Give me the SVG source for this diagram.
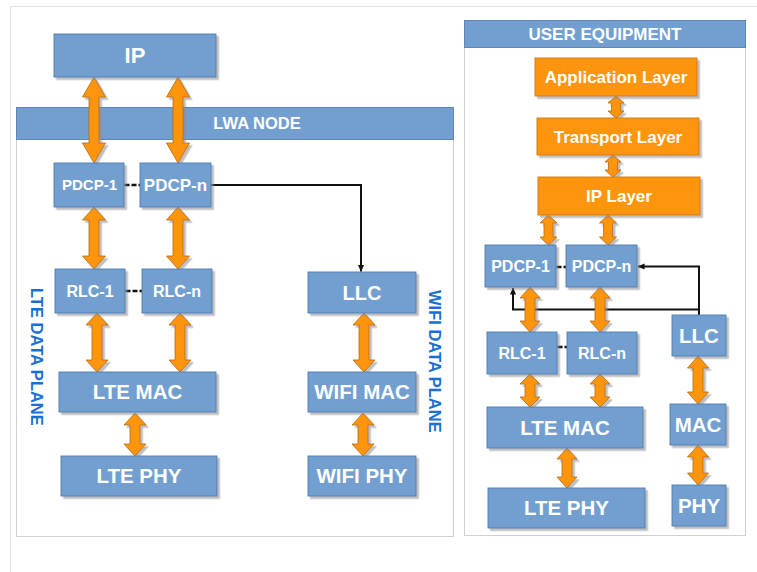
<svg xmlns="http://www.w3.org/2000/svg" width="757" height="572" viewBox="0 0 757 572">
  <defs>
    <filter id="shadow" x="-10%" y="-10%" width="130%" height="140%">
      <feDropShadow dx="2.5" dy="2.5" stdDeviation="0.7" flood-color="#8a8a8a" flood-opacity="0.55"/>
    </filter>
    <marker id="tip" viewBox="0 0 8 8" refX="7.5" refY="4" markerWidth="7" markerHeight="7" markerUnits="userSpaceOnUse" orient="auto">
      <path d="M0,0.5 L8,4 L0,7.5 Z" fill="#111"/>
    </marker>
    <style>
      .frame { fill: none; stroke: #e2e2e2; stroke-width: 1; }
      .panel { fill: #ffffff; stroke: #d0d0d0; stroke-width: 1; }
      .head { fill: #729fcf; stroke: #5b87bb; stroke-width: 1; }
      .blue { fill: #729fcf; stroke: #4f7db3; stroke-width: 0.9; filter: url(#shadow); }
      .orange { fill: #ff950e; stroke: #d07808; stroke-width: 0.9; filter: url(#shadow); }
      .arrow { fill: #ff950e; stroke: #b86a00; stroke-width: 0.8; stroke-linejoin: miter; filter: url(#shadow); }
      .wire { fill: none; stroke: #111; stroke-width: 2; }
      .dash { fill: none; stroke: #111; stroke-width: 2.5; stroke-dasharray: 5 2; }
      text { font-family: "Liberation Sans", Arial, sans-serif; font-weight: bold; fill: #ffffff; text-anchor: middle; }
      .side { fill: #1a6fd2; text-anchor: start; font-size: 16.5px; }
    </style>
  </defs>

  <!-- page edges -->
  <path class="frame" d="M10.5,572 V6.5 H757"/>

  <!-- containers -->
  <g id="lwa-node">
    <rect class="panel" x="16.5" y="107.5" width="437" height="429"/>
    <rect class="head" x="16.5" y="107.5" width="437" height="32"/>
    <text x="257" y="129.3" font-size="16.5">LWA NODE</text>
  </g>
  <g id="user-equipment">
    <rect class="panel" x="464.5" y="20.5" width="281" height="515"/>
    <rect class="head" x="464.5" y="20.5" width="281" height="27"/>
    <text x="605" y="39.8" font-size="17">USER EQUIPMENT</text>
  </g>

  <!-- side labels -->
  <text class="side" transform="translate(31,288) rotate(90)">LTE DATA PLANE</text>
  <text class="side" transform="translate(429,290) rotate(90)">WIFI DATA PLANE</text>

  <!-- connectors -->
  <g id="connectors">
    <!-- LWA node wiring -->
    <path class="wire" d="M211,185 H361 V271.5" marker-end="url(#tip)"/>
    <path class="dash" d="M124.5,185 H140"/>
    <path class="dash" d="M125.5,291 H142"/>
    <!-- UE wiring -->
    <path class="wire" d="M699,315 V266.5 H638" marker-end="url(#tip)"/>
    <path class="wire" d="M699,309.5 H513 V288" marker-end="url(#tip)"/>
    <path class="dash" d="M556.5,267 H566"/>
    <path class="dash" d="M557.5,347 H567"/>

    <!-- LWA node double arrows -->
    <polygon class="arrow" points="94,77 105.5,97 99,97 99,143 105.5,143 94,163 82.5,143 89,143 89,97 82.5,97"/>
    <polygon class="arrow" points="178,77 189.5,97 183,97 183,143 189.5,143 178,163 166.5,143 173,143 173,97 166.5,97"/>
    <polygon class="arrow" points="94,207 105.5,220 99,220 99,256 105.5,256 94,269 82.5,256 89,256 89,220 82.5,220"/>
    <polygon class="arrow" points="178,207 189.5,220 183,220 183,256 189.5,256 178,269 166.5,256 173,256 173,220 166.5,220"/>
    <polygon class="arrow" points="97,313 108,325 102,325 102,360 108,360 97,372 86,360 92,360 92,325 86,325"/>
    <polygon class="arrow" points="180,313 191,325 185,325 185,360 191,360 180,372 169,360 175,360 175,325 169,325"/>
    <polygon class="arrow" points="364,313 375,325 369,325 369,360 375,360 364,372 353,360 359,360 359,325 353,325"/>
    <polygon class="arrow" points="135,413 146,425 140,425 140,444 146,444 135,456 124,444 130,444 130,425 124,425"/>
    <polygon class="arrow" points="363,413 374,425 368,425 368,444 374,444 363,456 352,444 358,444 358,425 352,425"/>

    <!-- UE double arrows -->
    <polygon class="arrow" points="616,96 624,103 620.5,103 620.5,111 624,111 616,118 608,111 611.5,111 611.5,103 608,103"/>
    <polygon class="arrow" points="613,155 621,162 617.5,162 617.5,170 621,170 613,177 605,170 608.5,170 608.5,162 605,162"/>
    <polygon class="arrow" points="548.5,215 557,223 553,223 553,237 557,237 548.5,245 540,237 544,237 544,223 540,223"/>
    <polygon class="arrow" points="608,215 616.5,223 612.5,223 612.5,237 616.5,237 608,245 599.5,237 603.5,237 603.5,223 599.5,223"/>
    <polygon class="arrow" points="530,287 540,298 535,298 535,321 540,321 530,332 520,321 525,321 525,298 520,298"/>
    <polygon class="arrow" points="600,287 610,298 605,298 605,321 610,321 600,332 590,321 595,321 595,298 590,298"/>
    <polygon class="arrow" points="530,374 540,384 535,384 535,397 540,397 530,407 520,397 525,397 525,384 520,384"/>
    <polygon class="arrow" points="600,374 610,384 605,384 605,397 610,397 600,407 590,397 595,397 595,384 590,384"/>
    <polygon class="arrow" points="567,448 577,459 572,459 572,477 577,477 567,488 557,477 562,477 562,459 557,459"/>
    <polygon class="arrow" points="698,356 708.5,368 703,368 703,392 708.5,392 698,404 687.5,392 693,392 693,368 687.5,368"/>
    <polygon class="arrow" points="698,445 708.5,457 703,457 703,473 708.5,473 698,485 687.5,473 693,473 693,457 687.5,457"/>
  </g>

  <!-- LWA node stack -->
  <g id="ip">
    <rect class="blue" x="54" y="34" width="162" height="43"/>
    <text x="135" y="63.4" font-size="22">IP</text>
  </g>
  <g id="lwa-pdcp-1">
    <rect class="blue" x="54" y="163" width="70" height="44"/>
    <text x="89.5" y="190.4" font-size="15">PDCP-1</text>
  </g>
  <g id="lwa-pdcp-n">
    <rect class="blue" x="140" y="163" width="71" height="44"/>
    <text x="175.5" y="191" font-size="17">PDCP-n</text>
  </g>
  <g id="lwa-rlc-1">
    <rect class="blue" x="55" y="269" width="70" height="44"/>
    <text x="90" y="296.8" font-size="16">RLC-1</text>
  </g>
  <g id="lwa-rlc-n">
    <rect class="blue" x="142" y="269" width="70" height="44"/>
    <text x="177" y="296.8" font-size="16">RLC-n</text>
  </g>
  <g id="lwa-llc">
    <rect class="blue" x="308" y="272" width="108" height="41"/>
    <text x="362" y="299.7" font-size="20">LLC</text>
  </g>
  <g id="lte-mac">
    <rect class="blue" x="59" y="372" width="157" height="40"/>
    <text x="137.5" y="399.4" font-size="20.5">LTE MAC</text>
  </g>
  <g id="wifi-mac">
    <rect class="blue" x="308" y="372" width="108" height="40"/>
    <text x="362" y="399.4" font-size="20.5">WIFI MAC</text>
  </g>
  <g id="lte-phy">
    <rect class="blue" x="61" y="456" width="156" height="40"/>
    <text x="139" y="483.4" font-size="20.5">LTE PHY</text>
  </g>
  <g id="wifi-phy">
    <rect class="blue" x="308" y="456" width="108" height="40"/>
    <text x="362" y="483.4" font-size="20.5">WIFI PHY</text>
  </g>

  <!-- UE stack -->
  <g id="application-layer">
    <rect class="orange" x="535" y="58" width="162" height="38"/>
    <text x="616" y="83.1" font-size="17">Application Layer</text>
  </g>
  <g id="transport-layer">
    <rect class="orange" x="537" y="118" width="162" height="37"/>
    <text x="618" y="142.6" font-size="17">Transport Layer</text>
  </g>
  <g id="ip-layer">
    <rect class="orange" x="538" y="177" width="162" height="38"/>
    <text x="619" y="202.1" font-size="17">IP Layer</text>
  </g>
  <g id="ue-pdcp-1">
    <rect class="blue" x="485" y="245" width="71" height="42"/>
    <text x="520.5" y="271.8" font-size="16">PDCP-1</text>
  </g>
  <g id="ue-pdcp-n">
    <rect class="blue" x="566" y="245" width="71" height="42"/>
    <text x="601.5" y="271.8" font-size="16">PDCP-n</text>
  </g>
  <g id="ue-rlc-1">
    <rect class="blue" x="487" y="332" width="70" height="42"/>
    <text x="522" y="358.8" font-size="16">RLC-1</text>
  </g>
  <g id="ue-rlc-n">
    <rect class="blue" x="567" y="332" width="70" height="42"/>
    <text x="602" y="358.8" font-size="16">RLC-n</text>
  </g>
  <g id="ue-llc">
    <rect class="blue" x="672" y="315" width="54" height="41"/>
    <text x="699" y="342.9" font-size="20.5">LLC</text>
  </g>
  <g id="ue-lte-mac">
    <rect class="blue" x="487" y="407" width="156" height="41"/>
    <text x="565" y="434.9" font-size="20.5">LTE MAC</text>
  </g>
  <g id="ue-lte-phy">
    <rect class="blue" x="488" y="488" width="157" height="40"/>
    <text x="566.5" y="515.4" font-size="20.5">LTE PHY</text>
  </g>
  <g id="ue-mac">
    <rect class="blue" x="670" y="404" width="56" height="41"/>
    <text x="698" y="431.9" font-size="20.5">MAC</text>
  </g>
  <g id="ue-phy">
    <rect class="blue" x="672" y="485" width="54" height="41"/>
    <text x="699" y="512.9" font-size="20.5">PHY</text>
  </g>
</svg>
